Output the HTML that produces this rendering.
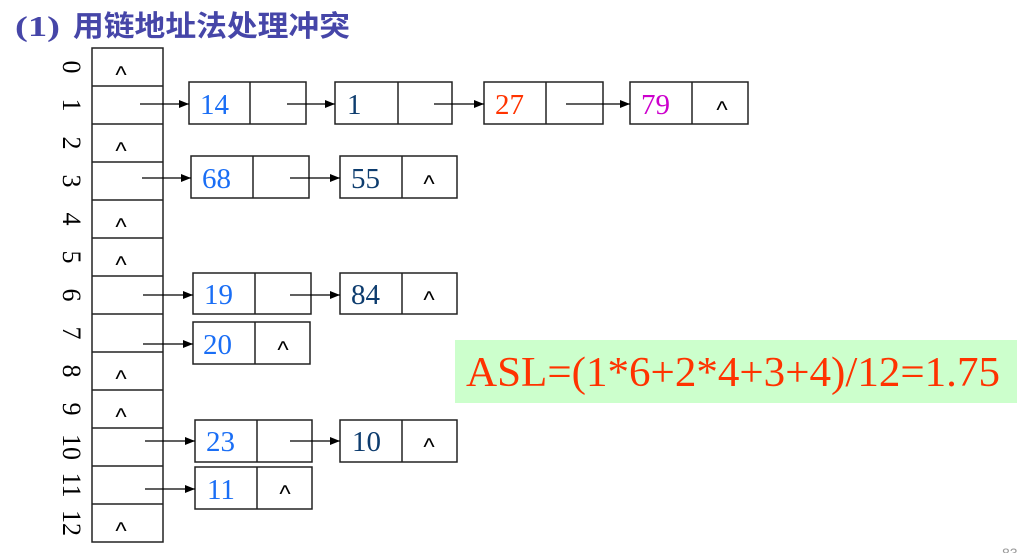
<!DOCTYPE html>
<html><head><meta charset="utf-8"><style>
html,body{margin:0;padding:0;background:#fff;}
svg{display:block;}
</style></head><body>
<svg width="1024" height="553" xmlns="http://www.w3.org/2000/svg">
<defs><marker id="a" markerWidth="10" markerHeight="8" refX="10" refY="4" orient="auto" markerUnits="userSpaceOnUse"><path d="M0,0 L10,4 L0,8 z" fill="#000"/></marker></defs>
<text x="15" y="36" font-family="Liberation Serif, serif" font-weight="bold" font-size="29" fill="#4646a8" textLength="45" lengthAdjust="spacingAndGlyphs">(1)</text>
<text x="73" y="36" font-family="'Noto Sans CJK SC', sans-serif" font-weight="bold" font-size="29" fill="#4646a8" textLength="277" lengthAdjust="spacingAndGlyphs">用链地址法处理冲突</text>
<g fill="none" stroke="#222" stroke-width="1.5">
<rect x="92" y="48" width="71" height="494"/>
<line x1="92" y1="86" x2="163" y2="86"/><line x1="92" y1="124" x2="163" y2="124"/><line x1="92" y1="162" x2="163" y2="162"/><line x1="92" y1="200" x2="163" y2="200"/><line x1="92" y1="238" x2="163" y2="238"/><line x1="92" y1="276" x2="163" y2="276"/><line x1="92" y1="314" x2="163" y2="314"/><line x1="92" y1="352" x2="163" y2="352"/><line x1="92" y1="390" x2="163" y2="390"/><line x1="92" y1="428" x2="163" y2="428"/><line x1="92" y1="466" x2="163" y2="466"/><line x1="92" y1="504" x2="163" y2="504"/>
</g>
<g font-family="Liberation Serif, serif" font-size="26" fill="#000" text-anchor="middle">
<text transform="translate(63,67) rotate(90)">0</text>
<text transform="translate(63,105) rotate(90)">1</text>
<text transform="translate(63,143) rotate(90)">2</text>
<text transform="translate(63,181) rotate(90)">3</text>
<text transform="translate(63,219) rotate(90)">4</text>
<text transform="translate(63,257) rotate(90)">5</text>
<text transform="translate(63,295) rotate(90)">6</text>
<text transform="translate(63,333) rotate(90)">7</text>
<text transform="translate(63,371) rotate(90)">8</text>
<text transform="translate(63,409) rotate(90)">9</text>
<text transform="translate(63,447) rotate(90)">10</text>
<text transform="translate(63,485) rotate(90)">11</text>
<text transform="translate(63,523) rotate(90)">12</text>
</g>
<g font-family="Liberation Sans, sans-serif" font-size="24" fill="#000" text-anchor="middle">
<text x="121" y="83">^</text><text x="121" y="159">^</text><text x="121" y="235">^</text><text x="121" y="273">^</text><text x="121" y="387">^</text><text x="121" y="425">^</text><text x="121" y="539">^</text>
<text x="722" y="118">^</text><text x="429" y="192">^</text><text x="429" y="308">^</text><text x="283" y="358">^</text><text x="429" y="455">^</text><text x="285" y="502">^</text>
</g>
<g fill="none" stroke="#222" stroke-width="1.5">
<rect x="189" y="82" width="117" height="42"/><line x1="250" y1="82" x2="250" y2="124"/>
<rect x="335" y="82" width="117" height="42"/><line x1="398" y1="82" x2="398" y2="124"/>
<rect x="484" y="82" width="119" height="42"/><line x1="546" y1="82" x2="546" y2="124"/>
<rect x="630" y="82" width="118" height="42"/><line x1="692" y1="82" x2="692" y2="124"/>
<rect x="191" y="156" width="118" height="42"/><line x1="253" y1="156" x2="253" y2="198"/>
<rect x="340" y="156" width="117" height="42"/><line x1="402" y1="156" x2="402" y2="198"/>
<rect x="193" y="273" width="118" height="41"/><line x1="255" y1="273" x2="255" y2="314"/>
<rect x="340" y="273" width="117" height="41"/><line x1="402" y1="273" x2="402" y2="314"/>
<rect x="193" y="322" width="117" height="42"/><line x1="255" y1="322" x2="255" y2="364"/>
<rect x="195" y="420" width="117" height="42"/><line x1="257" y1="420" x2="257" y2="462"/>
<rect x="340" y="420" width="117" height="42"/><line x1="402" y1="420" x2="402" y2="462"/>
<rect x="195" y="467" width="117" height="42"/><line x1="257" y1="467" x2="257" y2="509"/>
</g>
<g stroke="#000" stroke-width="1.3" marker-end="url(#a)">
<line x1="140" y1="104" x2="189" y2="104"/>
<line x1="287" y1="104" x2="335" y2="104"/>
<line x1="434" y1="104" x2="484" y2="104"/>
<line x1="566" y1="104" x2="630" y2="104"/>
<line x1="142" y1="178" x2="191" y2="178"/>
<line x1="290" y1="178" x2="340" y2="178"/>
<line x1="143" y1="295" x2="193" y2="295"/>
<line x1="290" y1="295" x2="340" y2="295"/>
<line x1="143" y1="344" x2="193" y2="344"/>
<line x1="145" y1="441" x2="195" y2="441"/>
<line x1="290" y1="441" x2="340" y2="441"/>
<line x1="145" y1="489" x2="195" y2="489"/>
</g>
<g font-family="Liberation Serif, serif" font-size="29">
<text x="200" y="114" fill="#1a6ef5">14</text>
<text x="347" y="114" fill="#0d3c6e">1</text>
<text x="495" y="114" fill="#ff3300">27</text>
<text x="641" y="114" fill="#cc00cc">79</text>
<text x="202" y="188" fill="#1a6ef5">68</text>
<text x="351" y="188" fill="#0d3c6e">55</text>
<text x="204" y="304" fill="#1a6ef5">19</text>
<text x="351" y="304" fill="#0d3c6e">84</text>
<text x="203" y="354" fill="#1a6ef5">20</text>
<text x="206" y="451" fill="#1a6ef5">23</text>
<text x="352" y="451" fill="#0d3c6e">10</text>
<text x="207" y="499" fill="#1a6ef5">11</text>
</g>
<rect x="455" y="340" width="562" height="63" fill="#ccffcc"/>
<text x="466" y="386" font-family="Liberation Serif, serif" font-size="42" fill="#ff3300" textLength="534" lengthAdjust="spacingAndGlyphs">ASL=(1*6+2*4+3+4)/12=1.75</text>
<text x="1002" y="558" font-family="Liberation Sans, sans-serif" font-size="14" fill="#999">83</text>
</svg>
</body></html>
